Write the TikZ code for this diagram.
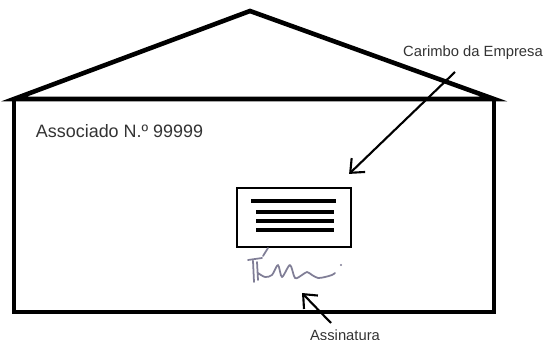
\documentclass[tikz,border=0pt]{standalone}
\usepackage{fontspec}
\setmainfont{Liberation Sans}
\usetikzlibrary{positioning,arrows.meta}

\definecolor{inkgray}{RGB}{128,126,150}

\begin{document}
\begin{tikzpicture}[x=0.01cm, y=-0.01cm, >={Straight Barb[length=3.2pt,width=5.5pt]},
    wall/.style={line width=1.3pt, line join=miter},
    caption/.style={inner sep=0pt, text=black!80, font=\fontsize{4.2}{5}\selectfont},
    pointer/.style={->, line width=0.6pt}]
    \useasboundingbox (0,0) rectangle (543,340);

    % Envelope
    \draw[wall] (14,99) -- (250,11) -- (494,99) -- cycle;
    \draw[wall] (14,99) rectangle (494,312);

    % Text
    \node[caption, font=\fontsize{5.1}{6}\selectfont] (assoc) at (119.5,131) {Associado N.º 99999};
    \node[caption] (carimbo) at (473,53) {Carimbo da Empresa};
    \node[caption] (assin) at (345,335) {Assinatura};

    % Stamp
    \node[draw, line width=0.6pt, minimum width=1.14cm, minimum height=0.59cm, inner sep=0pt] (stamp) at (294,217.5) {};
    \draw[line width=1.1pt] (251,201) -- (336,201);
    \foreach \yy in {212,221,230}
        \draw[line width=1.1pt] (256,\yy) -- (334,\yy);

    % Signature
    \draw[inkgray, line width=0.5pt, line cap=round, line join=round]
        (268,248) -- (263,256) (248,260) -- (262,258)
        (253,261) -- (254,282) (257,262) -- (258,280)
        plot[smooth] coordinates {(258,273) (265,277) (272,275) (278,265) (282,277) (290,265) (295,278) (302,275) (307,272) (312,275) (318,278) (325,277) (332,275) (335,273)};
    \fill[inkgray] (341,265) circle (1.2);

    % Arrows
    \coordinate (carimbotail) at (455,72);
    \coordinate (stamptip) at ([shift={(-3,-13)}]stamp.north east);
    \coordinate (assintail) at (331,323);
    \coordinate (sigtip) at (302,293);
    \draw[pointer] (carimbotail) -- (stamptip);
    \draw[pointer] (assintail) -- (sigtip);
\end{tikzpicture}
\end{document}
